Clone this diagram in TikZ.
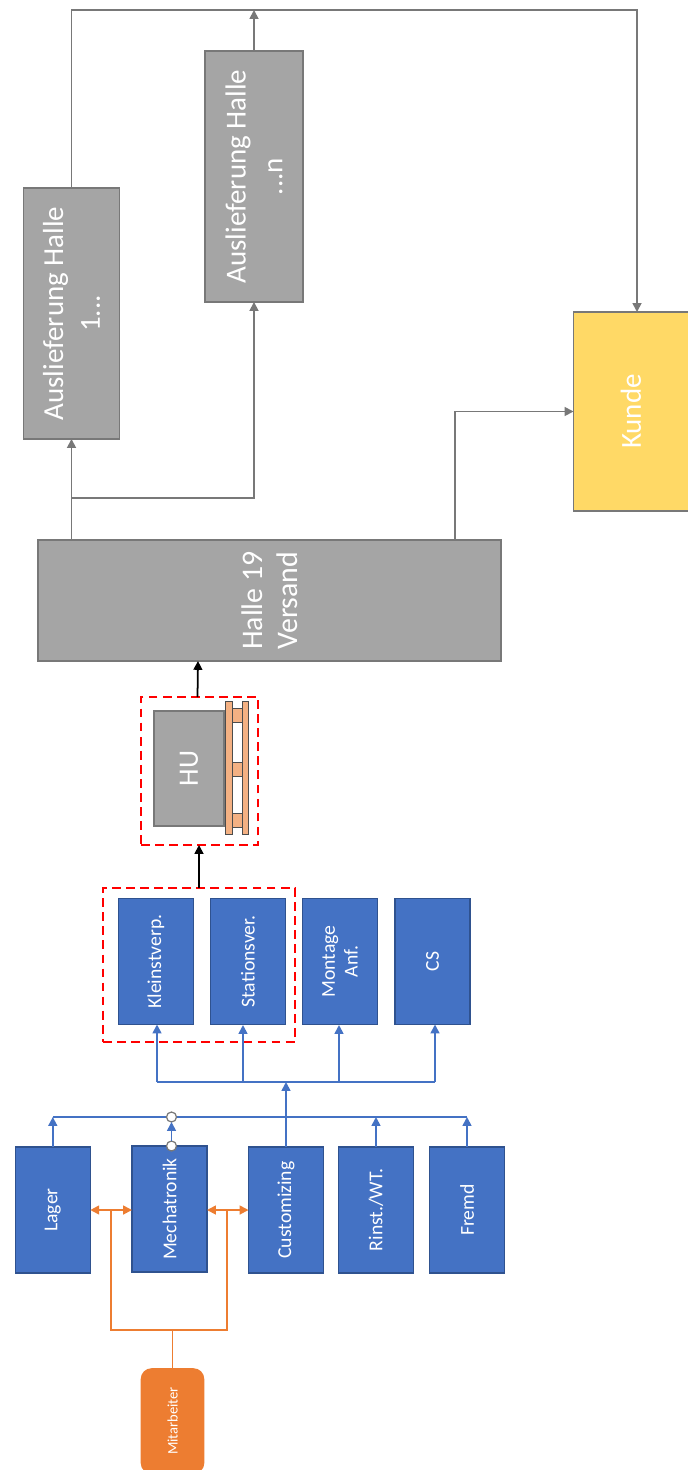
\documentclass[tikz,border=0pt]{standalone}
\usepackage{fontspec}
\setmainfont{Carlito}
\usetikzlibrary{arrows.meta}
\definecolor{boxblue}{HTML}{4472C4}
\definecolor{boxblueline}{HTML}{2F528F}
\definecolor{boxgray}{HTML}{A5A5A5}
\definecolor{linegray}{HTML}{787878}
\definecolor{boxgold}{HTML}{FFD966}
\definecolor{boxorange}{HTML}{ED7D31}
\definecolor{palletorange}{HTML}{F4B183}
\tikzset{
  box/.style={draw, rotate=90, align=center, text=white, inner sep=0pt, outer sep=0pt, line width=0.9pt},
  bluebox/.style={box, fill=boxblue, draw=boxblueline, minimum width=2.52cm, minimum height=1.5cm, font=\fontsize{11.2}{13}\selectfont},
  graybox/.style={box, fill=boxgray, draw=linegray},
  redbox/.style={draw=red, dashed, line width=1pt, inner sep=0pt, outer sep=0pt, dash pattern=on 5pt off 3pt},
  joint/.style={circle, draw=linegray, fill=white, line width=0.7pt, minimum size=0.2cm, inner sep=0pt, outer sep=0pt},
  bluelink/.style={draw=boxblue, line width=1pt},
  orangelink/.style={draw=boxorange, line width=1pt},
  graylink/.style={draw=linegray, line width=1pt},
  blacklink/.style={draw=black, line width=1pt},
  pallet/.style={draw=black!70, fill=palletorange, line width=0.5pt}
}
\begin{document}
\begin{tikzpicture}[x=0.02cm, y=-0.02cm, >={Triangle[length=5pt,width=5pt]}]
\useasboundingbox (0,0) rectangle (688,1470);

% Lower row
\node[bluebox] (lager) at (52.8,1210) {Lager};
\node[bluebox] (mechatronik) at (169.5,1209) {Mechatronik};
\node[bluebox] (customizing) at (286,1210) {Customizing};
\node[bluebox] (rinst) at (376,1210) {Rinst./WT.};
\node[bluebox] (fremd) at (467,1210) {Fremd};

% Upper row
\node[bluebox] (kleinst) at (156,961.5) {Kleinstverp.};
\node[bluebox] (stations) at (248,961.5) {Stationsver.};
\node[bluebox] (montage) at (340,961.5) {Montage\\Anf.};
\node[bluebox] (cs) at (432.5,961.5) {CS};

% Packing
\node[graybox, minimum width=2.3cm, minimum height=1.4cm, font=\fontsize{16}{19}\selectfont] (hu) at (189,768.5) {HU};
\draw[pallet] (225,701) rectangle (232,834);
\draw[pallet] (242,701) rectangle (248,834);
\foreach \y in {708,762,813}
  \draw[pallet] (232,\y) rectangle (242,\y+14);
\node[redbox, minimum width=3.84cm, minimum height=3.08cm] (packrahmen) at (199,965) {};
\node[redbox, minimum width=2.34cm, minimum height=2.96cm] (hurahmen) at (199.5,771) {};

% Shipping
\node[graybox, minimum width=2.42cm, minimum height=9.26cm, font=\fontsize{17}{20}\selectfont] (halle) at (269.5,600.5) {Halle 19\\Versand};
\node[graybox, minimum width=5.02cm, minimum height=1.92cm, font=\fontsize{16.5}{21}\selectfont] (hallea) at (71.5,313.5) {Auslieferung Halle\\1...};
\node[graybox, minimum width=5.02cm, minimum height=1.96cm, font=\fontsize{16.5}{21}\selectfont] (hallen) at (254,176.5) {Auslieferung Halle\\...n};
\node[box, fill=boxgold, draw=linegray, minimum width=3.98cm, minimum height=2.3cm, font=\fontsize{16.5}{20}\selectfont] (kunde) at (631,411.5) {Kunde};
\node[box, fill=boxorange, draw=boxorange, rounded corners=0.2cm, minimum width=2.08cm, minimum height=1.24cm, font=\fontsize{8.3}{10}\selectfont] (mitarbeiter) at (172.5,1421) {Mitarbeiter};

% Points on the lines
\coordinate (busa) at (52.8,1117);
\coordinate (busb) at (467,1117);
\coordinate (busc) at (157,1082);
\coordinate (busd) at (435,1082);
\coordinate (orangea) at (111,1330);
\coordinate (orangeb) at (227,1330);
\coordinate (orangec) at (172.5,1330);
\coordinate (halleout) at (71.5,540);
\coordinate (hallesplit) at (71.5,498);
\coordinate (hallekunde) at (455,540);
\coordinate (halleblack) at (198,661);
\coordinate (hublack) at (197.5,697);
\coordinate (top) at (71.5,10);
\coordinate (kundein) at (637,312);

% Blue lines
\draw[bluelink] (busa) -- (busb);
\draw[bluelink] (busc) -- (busd);
\draw[bluelink, ->] (lager.east) -- (lager.east |- busa);
\node[joint] (jointa) at (171.5,1146) {};
\node[joint] (jointb) at (171.5,1117) {};
\draw[bluelink, ->] (jointa) -- (jointb);
\draw[bluelink, ->] (customizing.east) -- (customizing.east |- busc);
\draw[bluelink, ->] (rinst.east) -- (rinst.east |- busa);
\draw[bluelink, ->] (fremd.east) -- (fremd.east |- busa);
\draw[bluelink, ->] (busc) -- (busc |- kleinst.west);
\draw[bluelink, ->] (243,1082) -- (243,1025);
\draw[bluelink, ->] (339,1082) -- (339,1025);
\draw[bluelink, ->] (busd) -- (busd |- cs.west);

% Orange lines
\draw[orangelink] (mitarbeiter.east) -- (orangec);
\draw[orangelink] (111,1210) -- (orangea) -- (orangeb) -- (227,1210);
\draw[orangelink, <->] (lager.south) -- (lager.south -| mechatronik.north);
\draw[orangelink, <->] (lager.south -| mechatronik.south) -- (lager.south -| customizing.north);

% Black lines
\draw[blacklink, ->] (packrahmen.north) -- (packrahmen.north |- hurahmen.south);
\draw[blacklink, ->] (hublack) -- (halleblack);

% Gray lines
\draw[graylink, ->] (halleout) -- (hallea.west);
\draw[graylink, ->] (hallesplit) -| (hallen.west);
\draw[graylink, ->] (hallea.east) -- (top) -| (kundein);
\draw[graylink, ->] (hallen.east) -- (hallen.east |- top);
\draw[graylink, ->] (hallekunde) |- (kunde.north);
\end{tikzpicture}
\end{document}
